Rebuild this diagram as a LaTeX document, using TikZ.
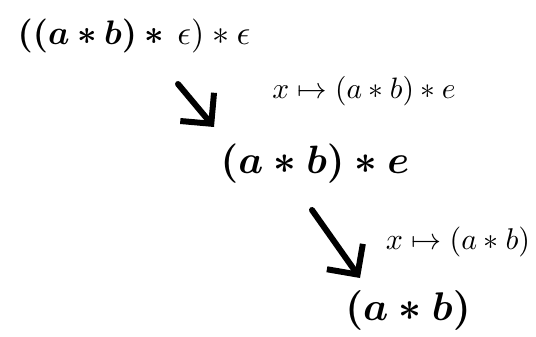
\documentclass[tikz,border=0pt]{standalone}
\usepackage{graphicx}
\usepackage{amsmath}
\usepackage{bm}
\usetikzlibrary{arrows.meta}
\tikzset{
  term/.style={inner sep=0pt, anchor=center},
  maparrow/.style={line width=6pt, line cap=round, -{Straight Barb[length=22pt,width=44pt,line width=6pt]}},
}
\newcommand{\fs}[2]{\scalebox{#1}{#2}}
\begin{document}
\begin{tikzpicture}[x=1pt,y=-1pt]
\useasboundingbox (0,0) rectangle (536,337);
\node[term] (n1) at (134,36) {\fs{3.4}{$\bm{((a\ast b)\ast}\,\epsilon)\ast\epsilon$}};
\node[term] (l1) at (364,91) {\fs{2.95}{$x\mapsto(a\ast b)\ast e$}};
\node[term] (n2) at (315,164) {\fs{3.95}{\boldmath$(a\ast b)\ast e$}};
\node[term] (l2) at (458,242) {\fs{3.0}{$x\mapsto(a\ast b)$}};
\node[term] (n3) at (408,310) {\fs{4.0}{\boldmath$(a\ast b)$}};
\coordinate (a1s) at (178,84);
\coordinate (a1e) at (214,127);
\coordinate (a2s) at (312,210);
\coordinate (a2e) at (360,278);
\draw[maparrow] (a1s) -- (a1e);
\draw[maparrow] (a2s) -- (a2e);
\end{tikzpicture}
\end{document}
